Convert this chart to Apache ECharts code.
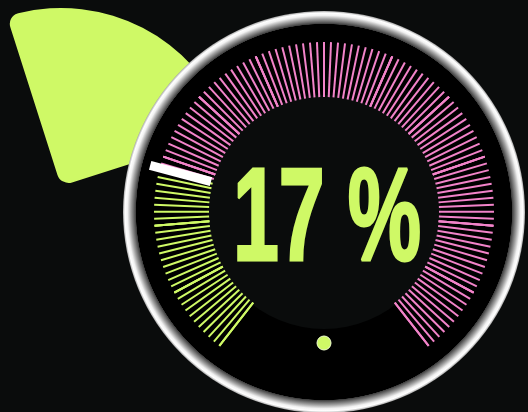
<!DOCTYPE html>
<html><head><meta charset="utf-8">
<script src="https://cdn.jsdelivr.net/npm/echarts@6/dist/echarts.min.js"></script>
<style>html,body{margin:0;padding:0;background:#0a0c0c}#c{width:528px;height:412px}</style>
</head><body><div id="c"></div>
<script>
// ---- data ----
const displayValue = [17];          // number shown in the centre
const pointerValue = [23.6];        // pointer / colour break position on the 0-100 dial
const sectorValues = [25, 75];      // decorative pie: visible slice + hidden rest
const dialRange = [0, 100];

const GREEN = '#cff966', PINK = '#f283c9', BG = '#0a0c0c';
const cx = 324, cy = 212;
const frac = (pointerValue[0] - dialRange[0]) / (dialRange[1] - dialRange[0]);

const chart = echarts.init(document.getElementById('c'));
const option = {
  backgroundColor: BG,
  animation: false,
  series: [
    {
      type: 'pie', z: 1, center: [61, 186], radius: [5, 178], startAngle: 107.7,
      silent: true, label: {show: false}, labelLine: {show: false},
      itemStyle: {borderRadius: 11},
      data: [
        {value: sectorValues[0], itemStyle: {color: GREEN}},
        {value: sectorValues[1], itemStyle: {color: 'rgba(0,0,0,0)'}}
      ]
    },
    {
      type: 'pie', z: 2, center: [cx, cy], radius: [0, 201], silent: true,
      label: {show: false}, labelLine: {show: false},
      data: [{value: 1, itemStyle: {color: {type: 'radial', x: 0.5, y: 0.5, r: 0.5, colorStops: [
        {offset: 0, color: '#000'}, {offset: 0.934, color: '#000'},
        {offset: 0.936, color: '#3c3c3c'}, {offset: 0.96, color: '#a0a0a0'},
        {offset: 0.978, color: '#f2f2f2'}, {offset: 0.99, color: '#ffffff'},
        {offset: 1, color: '#a8a8a8'}]}}}]
    },
    {
      type: 'pie', z: 3, center: [cx, cy], radius: [0, 117], silent: true,
      label: {show: false}, labelLine: {show: false},
      data: [{value: 1, itemStyle: {color: BG}}]
    },
    {
      type: 'gauge', z: 10, center: [cx, cy], radius: 170,
      startAngle: 232, endAngle: -52, min: dialRange[0], max: dialRange[1], splitNumber: 12,
      axisLine: {show: false, lineStyle: {width: 1, color: [[frac, GREEN], [1, PINK]]}},
      splitLine: {show: true, distance: -1, length: 55, lineStyle: {color: 'auto', width: 2}},
      axisTick: {show: true, splitNumber: 10, distance: -1, length: 55, lineStyle: {color: 'auto', width: 2}},
      axisLabel: {show: false},
      progress: {show: false},
      pointer: {show: true, icon: 'path://M0,0 L10,0 L10,63 L0,63 Z M5,180 L5.01,180', length: 180, width: 9,
        itemStyle: {color: '#ffffff'}},
      anchor: {show: true, showAbove: true, size: 14, icon: 'circle', offsetCenter: [0, 131],
        itemStyle: {color: GREEN, borderColor: '#f0ffd0', borderWidth: 1}},
      title: {show: false}, detail: {show: false},
      data: [{value: pointerValue[0]}]
    }
  ],
  graphic: [{
    type: 'text', x: cx + 3, y: 224, scaleX: 0.63, z: 100,
    style: {text: displayValue[0] + ' %', font: 'bold 131px "Liberation Sans"', fill: GREEN,
      stroke: GREEN, lineWidth: 3, align: 'center', verticalAlign: 'middle'}
  }]
};
chart.setOption(option);
</script></body></html>
